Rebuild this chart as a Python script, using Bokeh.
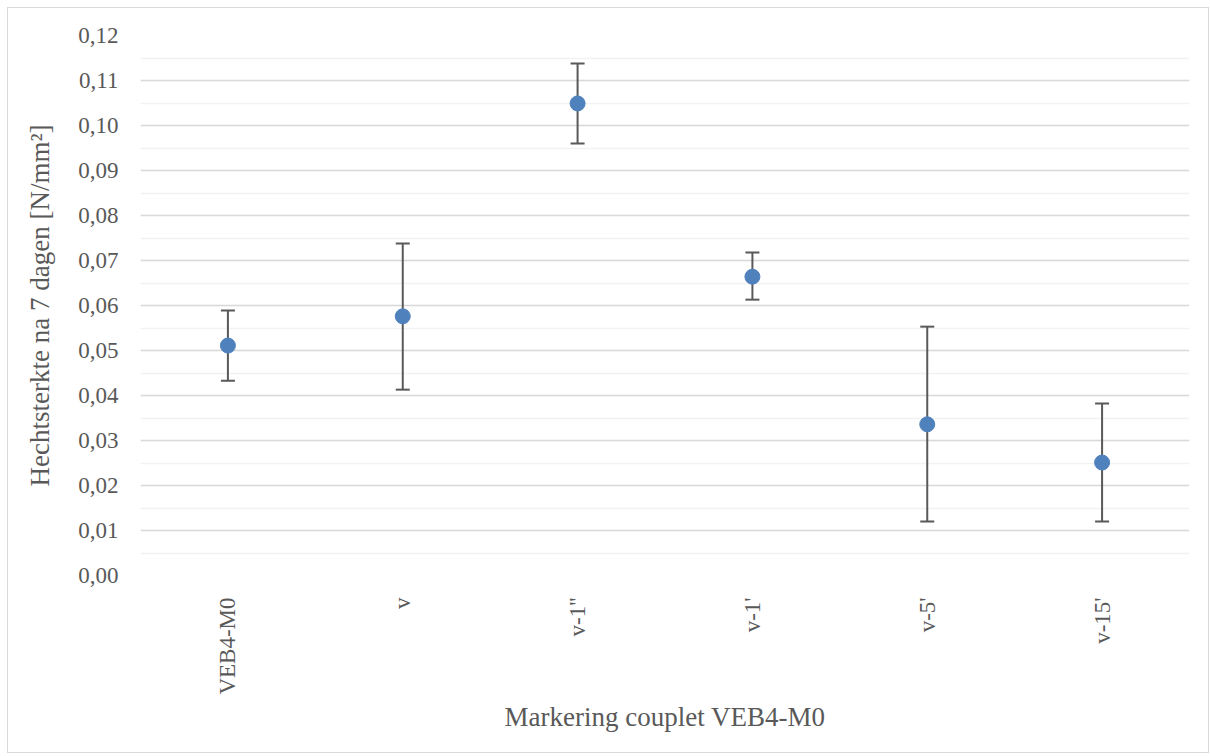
import math
from bokeh.plotting import figure
from bokeh.models import ColumnDataSource, Whisker, TeeHead, SingleIntervalTicker, CustomJSTickFormatter, Range1d, FactorRange
from bokeh.embed import file_html
from bokeh.resources import INLINE

categories = ["VEB4-M0", "v", "v-1''", "v-1'", "v-5'", "v-15'"]
means = [0.0511, 0.0576, 0.1049, 0.0664, 0.0336, 0.0251]
upper = [0.0589, 0.0738, 0.1138, 0.0718, 0.0553, 0.0382]
lower = [0.0433, 0.0413, 0.0960, 0.0613, 0.0120, 0.0120]
y_ticks_max = 0.12

FONT = "Liberation Serif"
TEXT = "#595959"

src = ColumnDataSource(dict(x=categories, y=means, upper=upper, lower=lower))

p = figure(width=1202, height=746, x_range=FactorRange(*categories, range_padding=0),
           y_range=Range1d(0, y_ticks_max), output_backend="svg", toolbar_location=None,
           min_border_left=132, min_border_right=21, min_border_top=27, min_border_bottom=179)
p.margin = (7, 0, 0, 7)
p.outline_line_color = None
p.styles = {"border": "1px solid #D9D9D9"}

w = Whisker(source=src, base="x", upper="upper", lower="lower", dimension="height",
            line_color="#595959", line_width=2,
            upper_head=TeeHead(size=14, line_color="#595959", line_width=2),
            lower_head=TeeHead(size=14, line_color="#595959", line_width=2))
p.add_layout(w)
p.scatter("x", "y", source=src, size=15, color="#4F81BD", line_color="#4F81BD")

p.yaxis.ticker = SingleIntervalTicker(interval=0.01, num_minor_ticks=2)
p.yaxis.formatter = CustomJSTickFormatter(code="return tick.toFixed(2).replace('.', ',');")
p.ygrid.grid_line_color = "#D9D9D9"
p.ygrid.grid_line_width = 1.5
p.ygrid.minor_grid_line_color = "#F2F2F2"
p.ygrid.minor_grid_line_width = 1.5
p.xgrid.grid_line_color = None

for ax in (p.xaxis, p.yaxis):
    ax.axis_line_color = None
    ax.major_tick_line_color = None
    ax.minor_tick_line_color = None
    ax.major_label_text_font = FONT
    ax.major_label_text_color = TEXT
    ax.major_label_text_font_size = "23px"
    ax.axis_label_text_font = FONT
    ax.axis_label_text_color = TEXT
    ax.axis_label_text_font_size = "27px"
    ax.axis_label_text_font_style = "normal"

p.yaxis.axis_label = "Hechtsterkte na 7 dagen [N/mm²]"
p.yaxis.major_label_standoff = 16
p.yaxis.axis_label_standoff = 20
p.xaxis.axis_label = "Markering couplet VEB4-M0"
p.xaxis.major_label_orientation = math.pi / 2
p.xaxis.major_label_standoff = 16
p.xaxis.axis_label_standoff = 4

open("out.html", "w").write(file_html(p, INLINE))
